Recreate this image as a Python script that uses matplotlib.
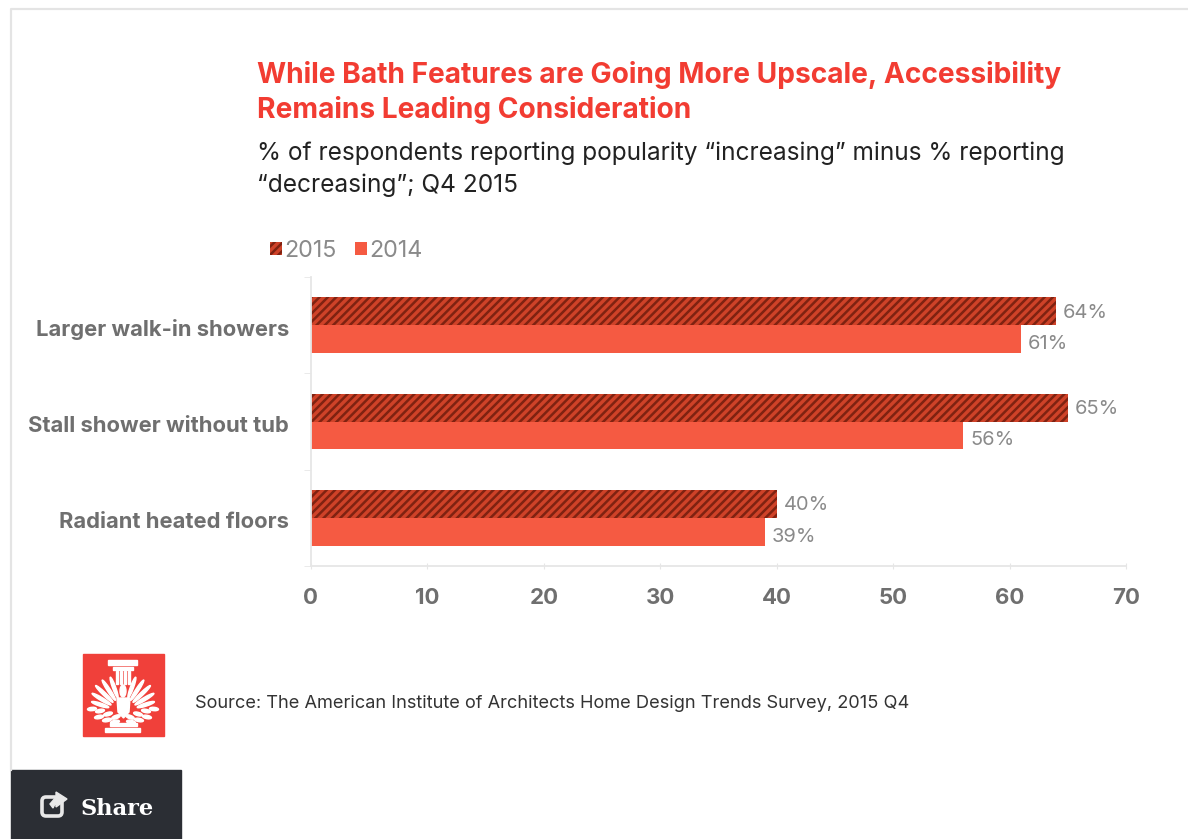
import matplotlib
matplotlib.use("Agg")
import matplotlib.pyplot as plt
from matplotlib.patches import Rectangle, Ellipse, Polygon, FancyBboxPatch
from matplotlib.transforms import ScaledTranslation
import numpy as np

W, H = 1188, 839

categories = ["Larger walk-in showers", "Stall shower without tub", "Radiant heated floors"]
values_2015 = [64, 65, 40]
values_2014 = [61, 56, 39]
x_ticks = [0, 10, 20, 30, 40, 50, 60, 70]

title = "While Bath Features are Going More Upscale, Accessibility\nRemains Leading Consideration"
subtitle = "% of respondents reporting popularity \u201cincreasing\u201d minus % reporting\n\u201cdecreasing\u201d; Q4 2015"
source = "Source: The American Institute of Architects Home Design Trends Survey, 2015 Q4"

RED = "#f23c32"
BAR_2014 = "#f55a42"
BAR_2015 = "#cf4228"
HATCH = "#7f2211"
GREY = "#6f6f6f"
LABEL_GREY = "#8a8a8a"
AXIS_GREY = "#e6e6e6"

plt.rcParams["font.family"] = ["Inter", "DejaVu Sans"]
plt.rcParams["hatch.linewidth"] = 1.8
plt.rcParams["hatch.color"] = HATCH

fig = plt.figure(figsize=(W / 100, H / 100), dpi=100, facecolor="white")

# page furniture is laid out in pixels
page = fig.add_axes([0, 0, 1, 1])
page.set_xlim(0, W)
page.set_ylim(H, 0)
page.axis("off")

page.plot([11, 11, W], [770, 9, 9], color="#e4e4e4", lw=1.6)

page.text(257, 92.5, title, color=RED, fontsize=20.25, fontweight="bold",
          va="center", linespacing=1.31)
page.text(257, 169.5, subtitle, color="#222222", fontsize=17.6, va="center",
          linespacing=1.45)
page.text(195, 704, source, color="#333333", fontsize=13.1, va="center")


def feather(cx, cy, angle, r, length, thick):
    # one petal pointing away from (cx, cy), angle measured from straight up
    a = np.radians(angle)
    px = cx + r * np.sin(a)
    py = cy - r * np.cos(a)
    rot = np.degrees(np.arctan2(-np.cos(a), np.sin(a)))
    page.add_patch(Ellipse((px, py), length, thick, angle=rot, color="white"))


# AIA logo block
page.add_patch(Rectangle((83, 654), 81, 82, color="#f0403a"))
page.add_patch(Rectangle((108, 660), 29, 4.5, color="white"))
page.add_patch(Rectangle((113, 667), 20, 3, color="white"))
page.add_patch(Rectangle((105, 728), 35, 4, color="white"))
page.add_patch(Rectangle((110, 723), 27, 2.5, color="white"))
for px in (116, 120, 124, 128):
    page.add_patch(Rectangle((px, 671), 2, 13, color="white"))
for side in (-1, 1):
    for ang, r, length in [(20, 26, 22), (33, 26, 24), (46, 26, 24), (59, 25, 22), (72, 24, 18)]:
        feather(123, 712, side * ang, r, length, 3.2)
    for dx, cy, ang in [(31, 709, 5), (23, 711, 10), (15, 714, 15), (7, 717, 20),
                        (24, 717, 10), (16, 720, 10), (8, 722, 10)]:
        page.add_patch(Ellipse((123 + side * dx, cy), 9, 3.4, angle=side * ang, color="white"))
page.add_patch(Polygon([(117, 698), (130, 698), (129, 712), (123.5, 718), (118, 712)], color="white"))
page.add_patch(Ellipse((123, 691), 6, 12, color="white"))

# share button
page.add_patch(Rectangle((11, 770), 170, 69, color="#2b2e34"))
page.add_patch(FancyBboxPatch((42, 797), 20, 19, boxstyle="round,pad=0,rounding_size=4",
                              fc="none", ec="#e8e8e8", lw=2.6))
page.add_patch(Polygon([(50, 804), (56, 797), (56, 792), (67, 799), (56, 807), (56, 802), (53, 808)],
                       color="#e8e8e8"))
page.text(81, 809, "Share", color="white", fontsize=16.2, fontweight="bold",
          family="DejaVu Serif", va="center")

# bar chart
top, bottom, left, right = 277, 566, 311, 1126
ax = fig.add_axes([left / W, 1 - bottom / H, (right - left) / W, (bottom - top) / H])
ax.patch.set_alpha(0)

y = np.arange(len(categories))
bar_h = 0.29
bars_2015 = ax.barh(y - bar_h / 2, values_2015, bar_h, color=BAR_2015, hatch="////",
                    edgecolor=HATCH, linewidth=0, label="2015")
bars_2014 = ax.barh(y + bar_h / 2, values_2014, bar_h, color=BAR_2014, label="2014")

for bars, vals, nudge in ((bars_2015, values_2015, -1), (bars_2014, values_2014, -3.5)):
    for bar, v in zip(bars, vals):
        ax.annotate(f"{v}%", (v, bar.get_y() + bar.get_height() / 2), xytext=(5, nudge),
                    textcoords="offset points", va="center", color=LABEL_GREY, fontsize=14.4)

ax.set_xlim(0, 70)
ax.set_ylim(len(categories) - 0.5, -0.5)
ax.set_xticks(x_ticks)
ax.set_yticks(np.arange(-0.5, len(categories)), minor=True)
ax.set_yticks(y)
ax.set_yticklabels(categories, fontsize=15.8, fontweight="bold", color=GREY)
ax.set_xticklabels(x_ticks, fontsize=16, fontweight="bold", color=GREY)
ax.tick_params(axis="y", which="major", length=0, pad=16)
ax.tick_params(axis="y", which="minor", length=5, color=AXIS_GREY, direction="out")
ax.tick_params(axis="x", length=5, color=AXIS_GREY, direction="inout", pad=13)

# category names sit a little below the group centre
shift = ScaledTranslation(0, -2 / 100, fig.dpi_scale_trans)
for label in ax.get_yticklabels():
    label.set_transform(label.get_transform() + shift)

for side in ("top", "right"):
    ax.spines[side].set_visible(False)
for side in ("left", "bottom"):
    ax.spines[side].set_color(AXIS_GREY)
    ax.spines[side].set_linewidth(1.3)

leg = fig.legend(handles=[bars_2015, bars_2014], loc="center left",
                 bbox_to_anchor=(270 / W, 1 - 251 / H), ncol=2, frameon=False,
                 fontsize=16.8, handlelength=0.5, handleheight=0.5, handletextpad=0.1,
                 columnspacing=0.8, borderpad=0, borderaxespad=0, labelcolor=LABEL_GREY)

fig.savefig("out.png", dpi=100)
